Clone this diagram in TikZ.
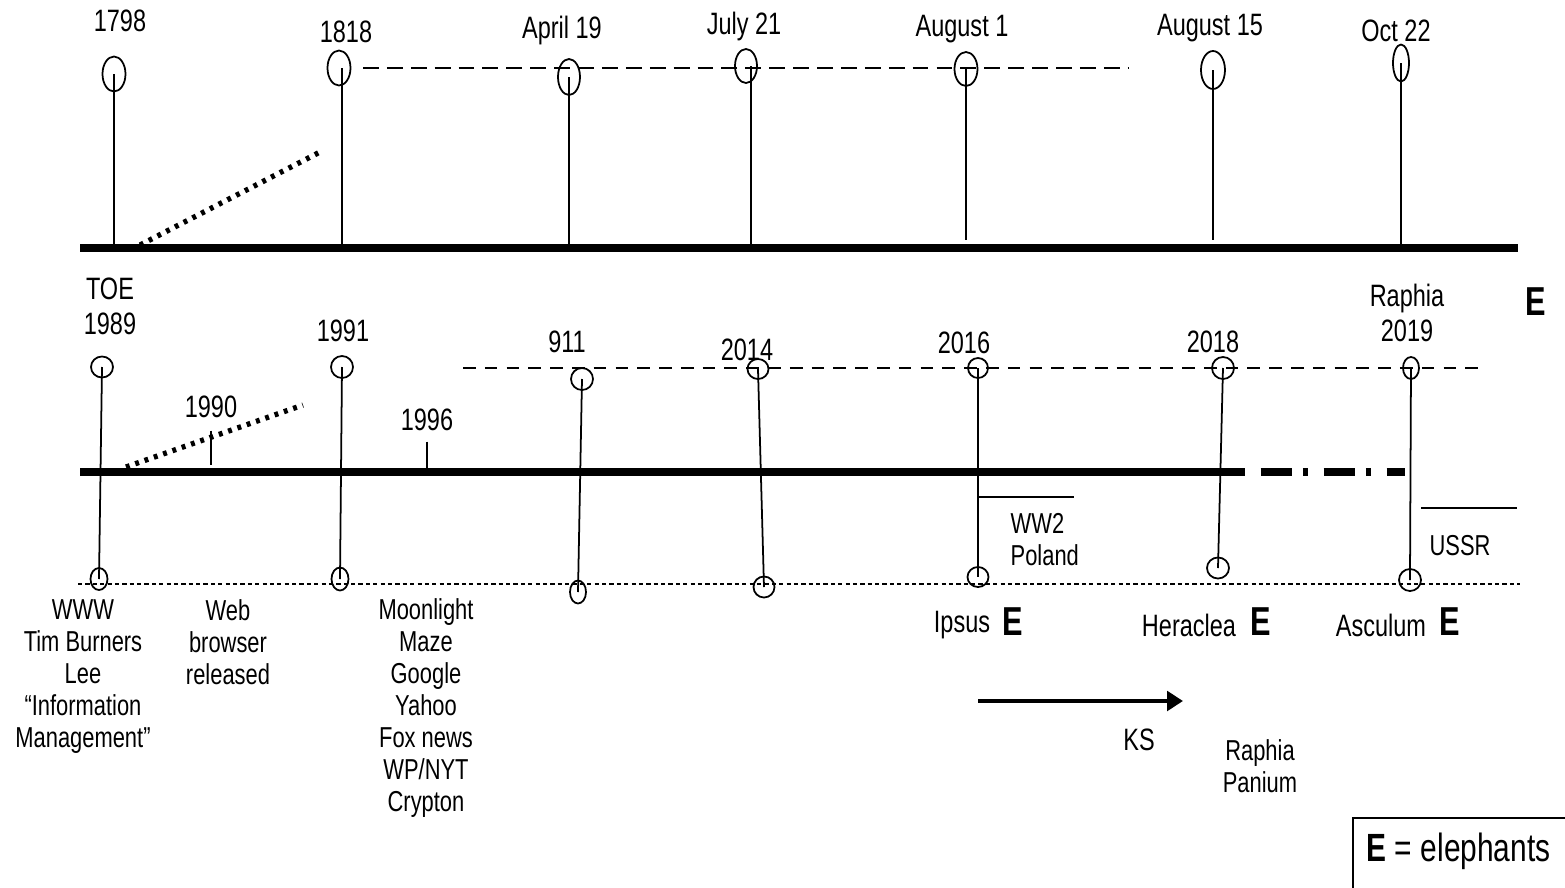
\documentclass[tikz,border=0pt]{standalone}
\usepackage{fontspec}
\setmainfont{Liberation Sans}[FakeStretch=0.76]
\usetikzlibrary{shapes.geometric,arrows.meta}
\tikzset{
	lbl/.style={font=\fontsize{8.2}{9.1}\selectfont,align=center,inner sep=0pt},
	toplbl/.style={lbl,font=\fontsize{8.8}{10}\selectfont},
	elE/.style={font=\fontsize{11.5}{13}\selectfont\bfseries,inner sep=0pt},
	ring/.style 2 args={draw,ellipse,inner sep=0pt,minimum width=#1mm,minimum height=#2mm,line width=0.5pt},
	axis/.style={line width=2pt},
	stem/.style={line width=0.5pt},
	dots/.style={line width=1.5pt,dash pattern=on 1.1pt off 1.7pt}
}

\begin{document}
\begin{tikzpicture}[x=0.1mm,y=-0.1mm,>={Triangle[length=4.5pt,width=5.5pt]}]
	\useasboundingbox (0,0) rectangle (1565,888);
	\clip (0,0) rectangle (1565,888);
	% upper time line
	\coordinate (atop) at (0,248);
	\draw[axis] (80,248) -- (1518,248);
	\draw[line width=0.5pt,dash pattern=on 4.5pt off 2.3pt] (363,68) -- (1128,68);
	\draw[dots] (140,245) -- (320,152);
	\node[ring={2.3}{3.5}] (t1798) at (114,74) {};
	\node[ring={2.3}{3.5}] (t1818) at (339,68) {};
	\node[ring={2.2}{3.6}] (tapr) at (569,77) {};
	\node[ring={2.2}{3.4}] (tjul) at (746,66) {};
	\node[ring={2.3}{3.4}] (taug1) at (966,69) {};
	\node[ring={2.4}{3.8}] (taug15) at (1213,70) {};
	\node[ring={1.6}{3.7}] (toct) at (1401,63) {};
	\node[toplbl] (l1798) at (120,21) {1798};
	\node[toplbl] (l1818) at (346,32) {1818};
	\node[toplbl] (lapr) at (562,30) {April 19};
	\node[toplbl] (ljul) at (744,26) {July 21};
	\node[toplbl] (laug1) at (962,29) {August 1};
	\node[toplbl] (laug15) at (1210,28) {August 15};
	\node[toplbl] (loct) at (1396,31) {Oct 22};
	\draw[stem] (t1798.center) -- (t1798.center |- atop);
	\draw[stem] ([xshift=0.3mm]t1818.center) -- ([xshift=0.3mm]t1818.center |- atop);
	\draw[stem] (tapr.center) -- (tapr.center |- atop);
	\draw[stem] ([xshift=0.5mm]tjul.center) -- ([xshift=0.5mm,yshift=1pt]tjul.center |- atop);
	\draw[stem] (taug1.center) -- ([yshift=2.3pt]taug1.center |- atop);
	\draw[stem] (taug15.center) -- ([yshift=2.3pt]taug15.center |- atop);
	\draw[stem] (toct.center) -- ([yshift=1pt]toct.center |- atop);
	% lower time line
	\coordinate (abot) at (0,472);
	\draw[axis] (80,472) -- (1240,472);
	\draw[axis,dash pattern=on 1.4pt off 4.5pt on 9pt off 3pt] (1240,472) -- (1405,472);
	\draw[line width=0.45pt,dash pattern=on 3.6pt off 2.6pt] (463,368) -- (1482,368);
	\draw[line width=0.35pt,dash pattern=on 1.2pt off 0.9pt] (78,584) -- (1520,584);
	\draw[dots] (126,467) -- (303,405);
	\node[ring={2.2}{2.1}] (b1989) at (102,367) {};
	\node[ring={1.7}{2.2}] (c1989) at (99,579) {};
	\node[ring={2.2}{2.2}] (b1991) at (342,367) {};
	\node[ring={1.7}{2.3}] (c1991) at (340,579) {};
	\node[ring={2.2}{2.2}] (b911) at (582,379) {};
	\node[ring={1.6}{2.3}] (c911) at (578,592) {};
	\node[ring={2.1}{2.0}] (b2014) at (758,369) {};
	\node[ring={2.1}{2.1}] (c2014) at (764,587) {};
	\node[ring={2.0}{2.0}] (b2016) at (978,368) {};
	\node[ring={2.1}{2.0}] (c2016) at (978,577) {};
	\node[ring={2.2}{2.2}] (b2018) at (1223,368) {};
	\node[ring={2.2}{2.1}] (c2018) at (1218,568) {};
	\node[ring={1.6}{2.2}] (b2019) at (1411,368) {};
	\node[ring={2.2}{2.2}] (c2019) at (1410,580) {};
	\foreach \y in {1989,1991,911,2014,2016,2018,2019}
		\draw[stem] (b\y.center) -- (c\y.center);
	\node[toplbl] (l1989) at (110,306) {TOE\\1989};
	\node[toplbl] (l1991) at (343,331) {1991};
	\node[toplbl] (l911) at (567,342) {911};
	\node[toplbl] (l2014) at (747,350) {2014};
	\node[toplbl] (l2016) at (964,343) {2016};
	\node[toplbl] (l2018) at (1213,342) {2018};
	\node[toplbl] (l2019) at (1407,313) {Raphia\\2019};
	\node[toplbl] (l1990) at (211,407) {1990};
	\node[toplbl] (l1996) at (427,420) {1996};
	\draw[stem] ([yshift=-1.2mm]l1990.south) -- ([yshift=0.7mm]l1990.south |- abot);
	\draw[stem] ([yshift=-1.0mm]l1996.south) -- (l1996.south |- abot);
	\draw[line width=0.4pt] (979,497) -- (1074,497);
	\node[lbl,align=left,anchor=north west] (lww2) at (1010,513) {WW2\\Poland};
	\draw[line width=0.4pt] (1421,508) -- (1517,508);
	\node[lbl] (lussr) at (1460,546) {USSR};
	\node[elE] (etop) at (1536,302) {E};
	% notes under the lines
	\node[lbl,anchor=north] (lwww) at (83,599) {WWW\\Tim Burners\\Lee\\“Information\\Management”};
	\node[lbl,anchor=north] (lweb) at (228,599) {Web\\browser\\released};
	\node[lbl,anchor=north] (lmoon) at (426,598) {Moonlight\\Maze\\Google\\Yahoo\\Fox news\\WP/NYT\\Crypton};
	\node[toplbl] (lipsus) at (962,625) {Ipsus};
	\node[elE] (eipsus) at (1013,622) {E};
	\node[toplbl] (lhera) at (1189,625) {Heraclea};
	\node[elE] (ehera) at (1261,622) {E};
	\node[toplbl] (lasc) at (1381,625) {Asculum};
	\node[elE] (easc) at (1450,622) {E};
	\coordinate (ksa) at (978,701);
	\coordinate (ksb) at (1183,701);
	\draw[->,line width=1.3pt] (ksa) -- (ksb);
	\node[toplbl] (lks) at (1139,740) {KS};
	\node[lbl] (lraph) at (1260,766) {Raphia\\Panium};
	% key
	\draw[line width=0.5pt] (1353,900) |- (1580,818);
	\node[anchor=west,inner sep=0pt,font=\fontsize{11.2}{13}\selectfont] (key) at (1366,851) {\textbf{E} = elephants};
\end{tikzpicture}
\end{document}
